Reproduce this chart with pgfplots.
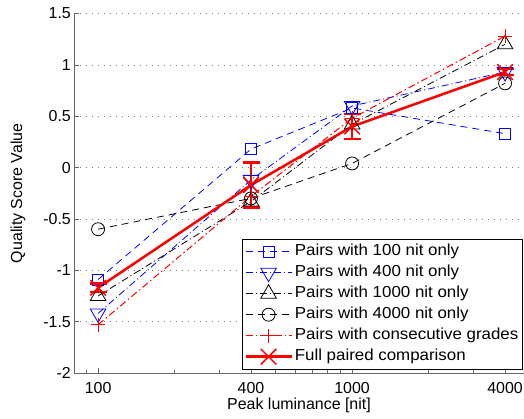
\documentclass[border=0pt]{standalone}
\usepackage{pgfplots}
\pgfplotsset{compat=1.18}
\usepackage{fontspec}
\setmainfont{Liberation Sans}
\newfontfamily\legfont{Liberation Sans}[FakeStretch=1.06]
\definecolor{axgray}{rgb}{0.4,0.4,0.4}
\definecolor{mblue}{rgb}{0,0,1}
\definecolor{mred}{rgb}{1,0,0}
\newcommand{\ff}{\fontsize{16}{19}\selectfont}
\newcommand{\fl}{\legfont\fontsize{16}{19}\selectfont}
\begin{document}
\begin{tikzpicture}
\path[use as bounding box] (-74bp,-46bp) rectangle (450bp,373bp);
\begin{axis}[
  at={(0,0)}, anchor=south west,
  scale only axis, width=450bp, height=359.5bp,
  xmode=log, xmin=80.4, xmax=4750, ymin=-2, ymax=1.5,
  enlargelimits=false,
  axis lines=left,
  axis line style={-, draw=axgray, line width=0.7bp},
  xtick={100,400,1000,4000}, xticklabels={100,400,1000,4000},
  minor xtick={90,200,300,500,600,700,800,900,2000,3000},
  ytick={-2,-1.5,-1,-0.5,0,0.5,1,1.5},
  yticklabels={-2,-1.5,-1,-0.5,0,0.5,1,1.5},
  ymajorgrids,
  major grid style={draw=gray, line width=0.6bp, dash pattern=on 1bp off 5bp},
  tick align=inside, major tick length=5bp, minor tick length=3bp,
  tick style={axgray, line width=0.6bp},
  tick label style={font=\ff},
  xticklabel style={anchor=north, inner sep=0pt, yshift=-9bp},
  yticklabel style={anchor=east, inner sep=0pt, xshift=-3bp},
  xlabel={Peak luminance [nit]}, ylabel={Quality Score Value},
  every axis x label/.style={at={(rel axis cs:0.5,0)}, anchor=center, yshift=-32bp, font=\ff},
  every axis y label/.style={at={(rel axis cs:0,0.5)}, xshift=-56bp, rotate=90, anchor=center, font=\ff},
  legend cell align=left,
  legend style={at={(rel axis cs:0.997,0.373)}, anchor=north east, draw=black, line width=0.6bp,
    font=\fl, inner sep=2bp, row sep=0pt,
    nodes={inner sep=2bp, text height=12.5bp, text depth=4.5bp}},
  legend image code/.code={\draw[mark repeat=2,mark phase=2,#1] plot coordinates {(0bp,0bp) (23bp,0bp) (46bp,0bp)};},
]
\addplot[color=mblue, line width=0.8bp, dash pattern=on 7bp off 5bp, mark=square, mark size=5.5bp, mark options={solid, draw=mblue}]
  coordinates {(100,-1.09) (400,0.18) (1000,0.58) (4000,0.33)};
\addlegendentry{Pairs with 100 nit only}
\addplot[color=mblue, line width=0.8bp, dash pattern=on 7bp off 3bp on 1bp off 3bp, mark=triangle, mark size=9bp, mark options={solid, rotate=180, draw=mblue}]
  coordinates {(100,-1.42) (400,-0.12) (1000,0.6) (4000,0.93)};
\addlegendentry{Pairs with 400 nit only}
\addplot[color=black, line width=0.8bp, dash pattern=on 7bp off 3bp on 1bp off 3bp, mark=triangle, mark size=9bp, mark options={solid, draw=black}]
  coordinates {(100,-1.25) (400,-0.33) (1000,0.42) (4000,1.2)};
\addlegendentry{Pairs with 1000 nit only}
\addplot[color=black, line width=0.8bp, dash pattern=on 7bp off 5bp, mark=o, mark size=6.5bp, mark options={solid, draw=black}]
  coordinates {(100,-0.6) (400,-0.3) (1000,0.04) (4000,0.82)};
\addlegendentry{Pairs with 4000 nit only}
\addplot[color=mred, draw=mred, line width=1bp, dash pattern=on 7bp off 3bp on 1.5bp off 3bp, mark=+, mark size=7bp, mark options={solid, draw=mred, line width=1bp}]
  coordinates {(100,-1.53) (400,-0.28) (1000,0.48) (4000,1.28)};
\addlegendentry{Pairs with consecutive grades}
\addplot[color=mred, draw=mred, line width=2.5bp, mark=x, mark size=11bp, mark options={solid, draw=mred, line width=1.5bp},
  error bars/.cd, y dir=both, y explicit,
  error bar style={line width=2.5bp, draw=mred, solid},
  error mark options={rotate=90, mark size=8.5bp, line width=2.5bp, draw=mred}]
  coordinates {(100,-1.17) +- (0,0.04) (400,-0.17) +- (0,0.22) (1000,0.4) +- (0,0.12) (4000,0.93) +- (0,0.03)};
\addlegendentry{Full paired comparison}
\end{axis}
\end{tikzpicture}
\end{document}
